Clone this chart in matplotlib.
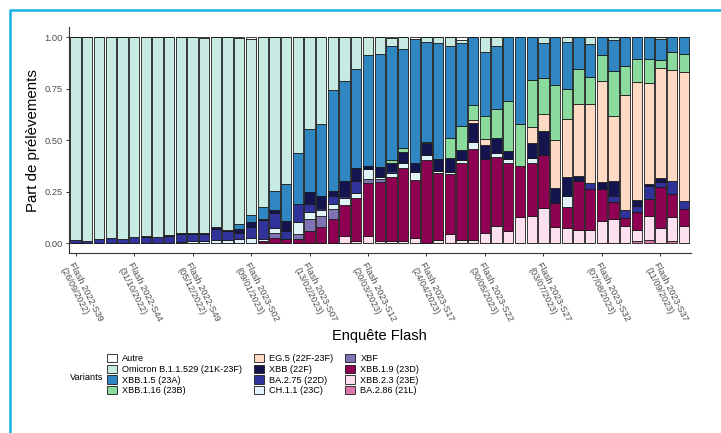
import numpy as np
import matplotlib
matplotlib.use("Agg")
import matplotlib.pyplot as plt
from matplotlib.patches import Patch
from matplotlib.lines import Line2D

plt.rcParams['font.family'] = ['Liberation Sans', 'DejaVu Sans']

# semaines 2022-S39 -> 2023-S39
n_weeks = 53
tick_idx = [0, 5, 10, 15, 20, 25, 30, 35, 40, 45, 50]
tick_labels = [
    "Flash 2022-S39\n(26/09/2022)",
    "Flash 2022-S44\n(31/10/2022)",
    "Flash 2022-S49\n(05/12/2022)",
    "Flash 2023-S02\n(09/01/2023)",
    "Flash 2023-S07\n(13/02/2023)",
    "Flash 2023-S12\n(20/03/2023)",
    "Flash 2023-S17\n(24/04/2023)",
    "Flash 2023-S22\n(30/05/2023)",
    "Flash 2023-S27\n(03/07/2023)",
    "Flash 2023-S32\n(07/08/2023)",
    "Flash 2023-S37\n(11/09/2023)",
]

# parts par variant, une valeur par semaine
autre = [0, 0, 0, 0, 0, 0, 0, 0, 0, 0, 0, .003, 0, 0, .003, .01, 0, 0, 0, 0,
         0, 0, 0, 0, 0, 0, 0, .003, 0, .008, 0, 0, 0, .013, 0, 0, 0, 0, 0, 0,
         0, 0, 0, 0, 0, 0, 0, 0, 0, 0, 0, 0, 0]
omicron = [.985, .988, .98, .976, .98, .97, .965, .973, .96, .953, .95, .95, .923, .937, .905, .856, .826, .747, .715, .565,
           .444, .423, .255, .215, .153, .085, .084, .04, .056, 0, .024, .027, .045, .016, 0, .073, .043, 0, 0, 0,
           .029, 0, .024, 0, .032, 0, .013, 0, 0, 0, .011, 0, 0]
xbb15 = [0, 0, 0, 0, 0, 0, 0, 0, 0, 0, 0, 0, 0, 0, .024, .034, .056, .095, .18, .246,
         .306, .351, .49, .485, .481, .539, .545, .554, .484, .605, .484, .567, .447, .403, .331, .309, .304, .311, .42, .206,
         .169, .231, .226, .153, .162, .089, .153, .14, .108, .105, .099, .073, .084]
xbb116 = [0] * 27 + [.013, .02, 0, .008, 0, .095, .116, .072, .115, .145, .242, .206, .229,
                     .173, .269, .15, .174, .129, .124, .216, .139, .11, .118, .038, .088, .085]
eg5 = [0] * 34 + [.013, .027, 0, 0, 0, .078,
                  .085, .234, .277, .346, .387, .492, .316, .563, .572, .492, .537, .537, .625]
xbb = [0, 0, 0, 0, 0, 0, .007, 0, .005, .005, .005, .004, .007, .005, .018, .02, .008, .013, .045, 0,
       .06, .056, .025, .07, .066, .016, .048, .038, .05, .04, .057, .054, .066, .049, .092, .07, .073, .041, 0, .076,
       .117, .072, .097, .024, 0, .032, .076, 0, .029, .008, .02, 0, 0]
ba275 = [.015, .012, .02, .024, .02, .03, .028, .027, .035, .037, .033, .035, .055, .045, .03, .056, .09, .073, .04, .089,
         .037, .012, .04, .012, .055, 0, 0, .01, 0, 0, 0, 0, 0, 0, 0, 0, 0, 0, 0, 0,
         0, 0, 0, 0, .029, 0, .029, .037, .028, .064, .021, .065, .041]
ch11 = [0, 0, 0, 0, 0, 0, 0, 0, 0, .005, .012, .008, .015, .013, .02, .024, .01, .024, 0, .056,
        .037, .026, .025, .034, .027, .05, .013, .022, .027, .041, .024, .013, .013, .016, .037, 0, .015, .016, 0, .024,
        0, 0, .052, 0, 0, 0, 0, 0, 0, 0, 0, 0, 0]
xbf = [0] * 17 + [.026, 0, .023, .06, .055, .049, 0, 0, .02, .015] + [0] * 26
xbb19 = [0] * 16 + [.01, .022, .02, .021,
                    .056, .077, .116, .152, .21, .255, .287, .312, .355, .282, .403, .326, .289, .371, .439, .358, .336, .334, .25, .258,
                    .258, .117, .101, .238, .196, .158, .079, .04, .088, .081, .201, .111, .084]
xbb23 = [0] * 23 + [.032, .008, .035, .008, .008, .008, .024, 0, .013, .045, .016, .016, .048, .084, .056, .124, .129,
                    .169, .077, .073, .065, .065, .105, .118, .081, .054, .116, .073, .118, .081]
ba286 = [0] * 48 + [.011, .016, 0, .008, 0]

# du bas vers le haut de la pile
series = [
    ("BA.2.86 (21L)", ba286, "#de77ae"),
    ("XBB.2.3 (23E)", xbb23, "#fde0ef"),
    ("XBB.1.9 (23D)", xbb19, "#8e0152"),
    ("XBF", xbf, "#7f73b3"),
    ("CH.1.1 (23C)", ch11, "#e0f3f8"),
    ("BA.2.75 (22D)", ba275, "#30349a"),
    ("XBB (22F)", xbb, "#14144f"),
    ("EG.5 (22F-23F)", eg5, "#fed9c3"),
    ("XBB.1.16 (23B)", xbb116, "#8cdb9e"),
    ("XBB.1.5 (23A)", xbb15, "#3086c0"),
    ("Omicron B.1.1.529 (21K-23F)", omicron, "#c7eae3"),
    ("Autre", autre, "#ffffff"),
]

fig = plt.figure(figsize=(7.21, 4.33), dpi=100)
ax = fig.add_axes([0.0951, 0.415, 0.863, 0.523])

x = np.arange(n_weeks)
bottom = np.zeros(n_weeks)
for name, vals, col in series:
    vals = np.array(vals, dtype=float)
    ax.bar(x, vals, bottom=bottom, width=0.88, color=col,
           edgecolor="#1a1a1a", linewidth=0.6)
    bottom += vals

ax.set_xlim(-0.6, n_weeks - 0.4)
ax.set_ylim(-0.05, 1.05)
ax.set_yticks([0, 0.25, 0.5, 0.75, 1.0])
ax.set_yticklabels(["0.00", "0.25", "0.50", "0.75", "1.00"])
ax.set_xticks(tick_idx)
ax.set_xticklabels(tick_labels, rotation=-63, ha="left", va="top",
                   rotation_mode="anchor", fontsize=6.6, color="#4d4d4d")
ax.tick_params(axis="y", labelsize=6.7, labelcolor="#4d4d4d", length=2.5,
               color="#333333", width=0.7, pad=1.8)
ax.tick_params(axis="x", length=2.5, color="#333333", width=0.7, pad=3)
for s in ["top", "right"]:
    ax.spines[s].set_visible(False)
for s in ["left", "bottom"]:
    ax.spines[s].set_color("#333333")
    ax.spines[s].set_linewidth(0.8)

ax.set_ylabel("Part de prélèvements", fontsize=10.8, labelpad=3)
ax.set_xlabel("Enquête Flash", fontsize=10.5, labelpad=1)

# légende : 3 colonnes, ordre inverse de la pile
handles = [Patch(facecolor=col, edgecolor="#1a1a1a", linewidth=0.6, label=name)
           for name, vals, col in series[::-1]]
fig.legend(handles=handles, loc="upper left", bbox_to_anchor=(0.148, 0.182),
           ncol=3, frameon=False, fontsize=6.6, handlelength=1.1,
           handleheight=1.0, handletextpad=0.6, labelspacing=0.15,
           columnspacing=1.24, borderpad=0, borderaxespad=0)
fig.text(70 / 721, 1 - 377 / 433, "Variants", fontsize=6.6, va="center", ha="left")

# cadre bleu
fig.add_artist(Line2D([10 / 721, 10 / 721, 1.0], [0.0, 1 - 10 / 433, 1 - 10 / 433],
                      transform=fig.transFigure, color="#14b2e6", linewidth=1.8))

fig.savefig("out.png", dpi=100)
